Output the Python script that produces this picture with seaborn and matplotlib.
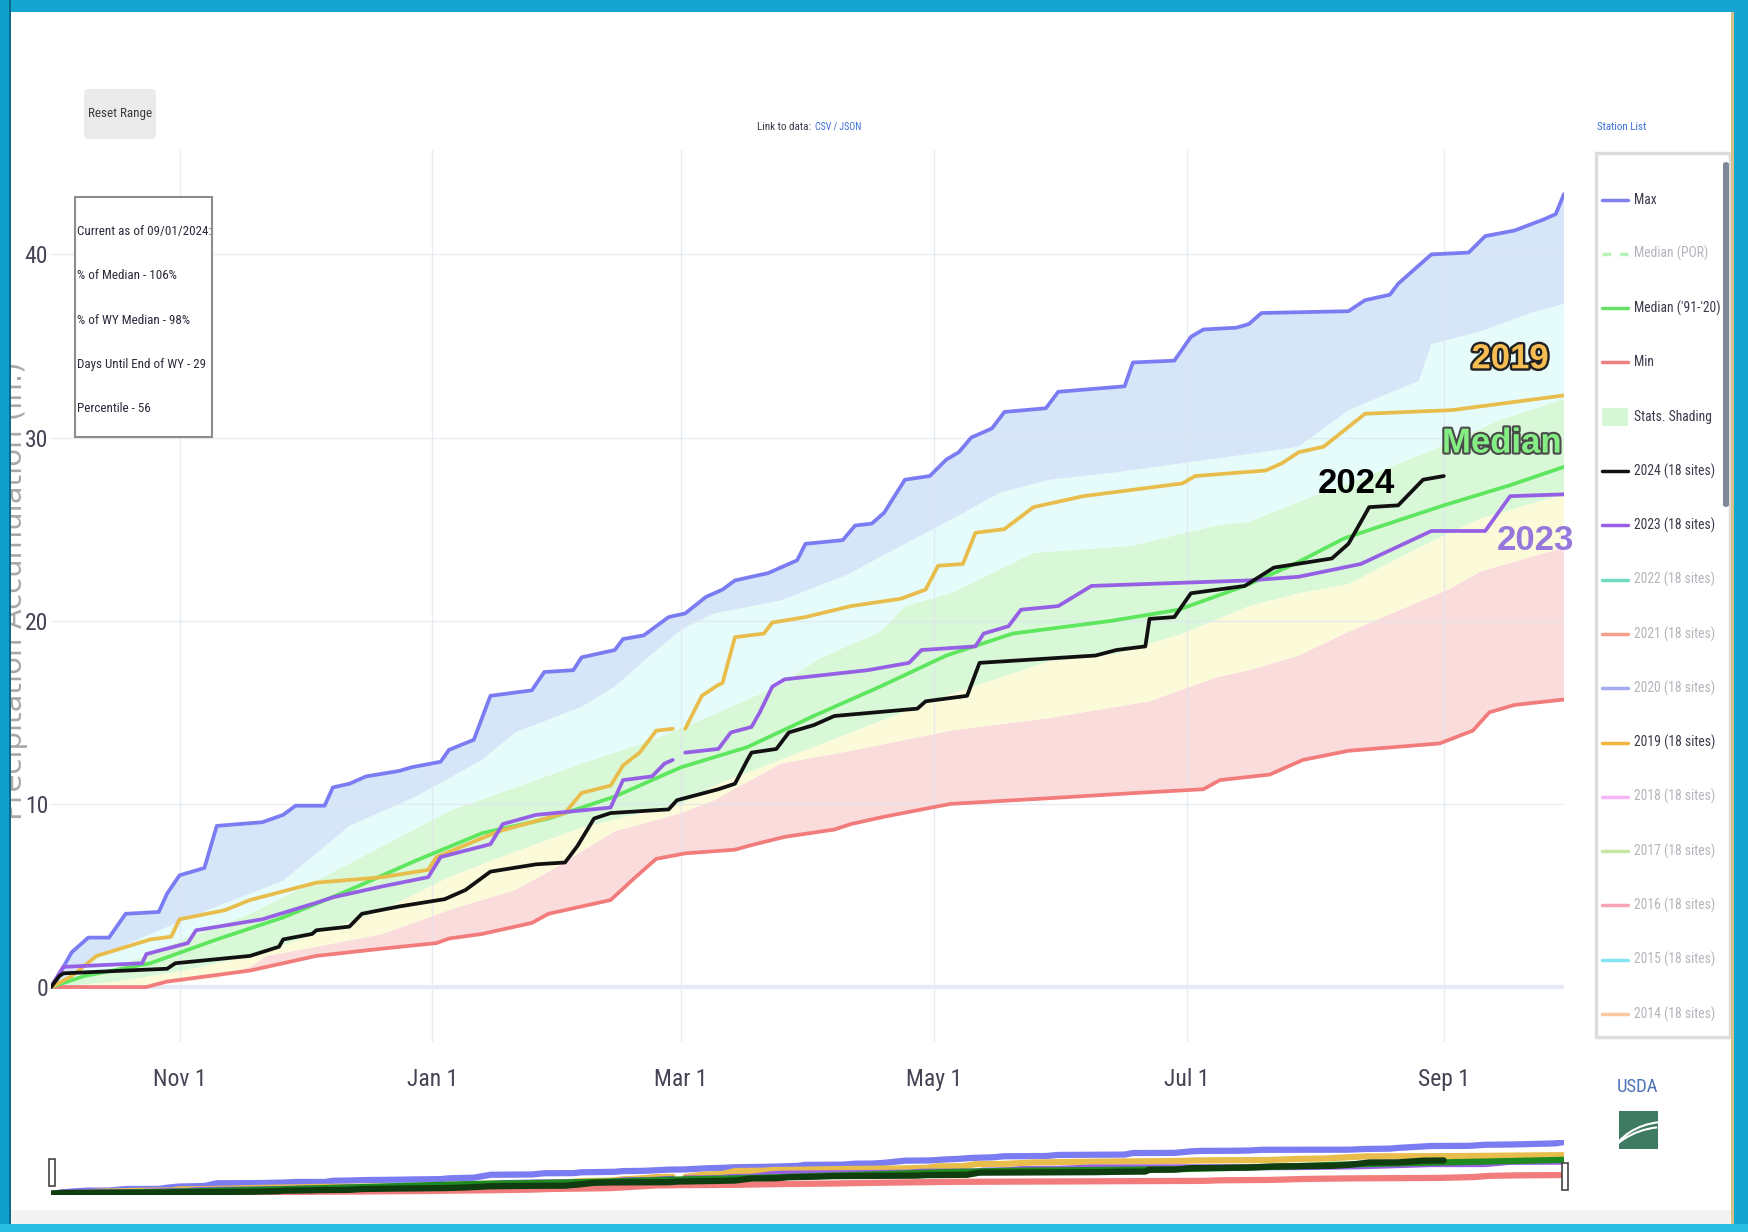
import numpy as np
import pandas as pd
import matplotlib
matplotlib.use("Agg")
import matplotlib.pyplot as plt
import matplotlib.patheffects as pe
from matplotlib import font_manager as fm
from matplotlib.patches import Rectangle, FancyBboxPatch, Arc
from matplotlib.lines import Line2D
import seaborn as sns

# ---- data: day of water year (0 = Oct 1 2023), accumulated precip (in.) ----
max_days = [0, 3, 5, 9, 14, 18, 26, 28, 31, 37, 40, 51, 56, 59, 66, 68, 72, 76, 84, 87, 94, 96, 102, 106,
            116, 119, 126, 128, 136, 138, 143, 149, 153, 158, 162, 165, 173, 180, 182, 191, 194, 198, 201,
            206, 212, 216, 219, 222, 227, 230, 240, 243, 259, 261, 271, 275, 278, 286, 289, 292, 313, 317,
            323, 325, 333, 342, 346, 353, 360, 363, 365]
max_vals = [0, 1.1, 1.9, 2.7, 2.7, 4.0, 4.1, 5.1, 6.1, 6.5, 8.8, 9.0, 9.4, 9.9, 9.9, 10.9, 11.1, 11.5, 11.8,
            12.0, 12.3, 12.95, 13.5, 15.9, 16.2, 17.2, 17.3, 18.0, 18.4, 19.0, 19.2, 20.2, 20.4, 21.3, 21.7,
            22.2, 22.6, 23.3, 24.2, 24.4, 25.2, 25.3, 25.9, 27.7, 27.9, 28.8, 29.2, 30.0, 30.5, 31.4, 31.6,
            32.5, 32.8, 34.1, 34.2, 35.5, 35.9, 36.0, 36.2, 36.8, 36.9, 37.5, 37.8, 38.4, 40.0, 40.1, 41.0,
            41.3, 41.9, 42.2, 43.3]

min_days = [0, 23, 28, 48, 64, 80, 93, 96, 104, 116, 120, 135, 141, 146, 153, 165, 169, 177, 189, 193, 201,
            217, 240, 262, 278, 282, 294, 302, 313, 335, 343, 347, 353, 365]
min_vals = [0, 0, 0.3, 0.9, 1.7, 2.1, 2.4, 2.65, 2.9, 3.5, 4.0, 4.75, 6.0, 7.0, 7.3, 7.5, 7.75, 8.2, 8.6, 8.9,
            9.3, 10.0, 10.3, 10.6, 10.8, 11.3, 11.6, 12.4, 12.9, 13.3, 14.0, 15.0, 15.4, 15.7]

median_days = [0, 8, 24, 40, 56, 72, 88, 104, 120, 136, 152, 168, 184, 200, 216, 232, 256, 272, 288, 300,
               312, 324, 336, 352, 365]
median_vals = [0, 0.6, 1.3, 2.6, 3.8, 5.3, 6.9, 8.4, 9.2, 10.4, 12.0, 13.1, 14.8, 16.4, 18.1, 19.3, 20.0,
               20.6, 21.9, 23.1, 24.5, 25.4, 26.3, 27.4, 28.4]

wy2024_days = [0, 2, 3, 28, 30, 48, 55, 56, 63, 64, 72, 75, 84, 95, 100, 106, 117, 124, 127, 131, 135, 149,
               151, 161, 165, 168, 169, 175, 178, 184, 189, 209, 211, 221, 224, 252, 257, 264, 265, 271, 275,
               288, 295, 309, 313, 318, 325, 331, 336]
wy2024_vals = [0, 0.6, 0.75, 1.0, 1.3, 1.7, 2.2, 2.6, 2.9, 3.1, 3.3, 4.0, 4.4, 4.8, 5.3, 6.3, 6.7, 6.8, 7.7,
               9.2, 9.5, 9.7, 10.2, 10.8, 11.1, 12.4, 12.8, 13.0, 13.9, 14.3, 14.8, 15.2, 15.6, 15.9, 17.7,
               18.1, 18.4, 18.6, 20.1, 20.2, 21.5, 21.9, 22.9, 23.4, 24.2, 26.2, 26.3, 27.7, 27.9]

wy2023_days = [0, 3, 22, 23, 33, 35, 51, 64, 68, 80, 91, 94, 106, 109, 117, 135, 138, 145, 148, 150, 151,
               153, 161, 164, 169, 171, 174, 177, 197, 207, 210, 223, 225, 231, 234, 243, 251, 289, 301, 316,
               333, 346, 352, 365]
wy2023_vals = [0, 1.1, 1.3, 1.8, 2.4, 3.1, 3.7, 4.6, 4.9, 5.5, 6.0, 7.1, 7.8, 8.9, 9.4, 9.8, 11.3, 11.5, 12.2,
               12.4, np.nan, 12.8, 13.0, 13.9, 14.2, 15.0, 16.4, 16.8, 17.3, 17.7, 18.4, 18.6, 19.3, 19.7,
               20.6, 20.8, 21.9, 22.2, 22.4, 23.1, 24.9, 24.9, 26.8, 26.9]

wy2019_days = [0, 5, 11, 24, 29, 31, 42, 48, 64, 80, 91, 93, 108, 124, 128, 135, 138, 142, 146, 150, 151,
               153, 157, 161, 162, 165, 172, 174, 182, 193, 205, 211, 214, 220, 223, 230, 237, 249, 273, 276,
               293, 297, 301, 307, 317, 338, 365]
wy2019_vals = [0, 0.6, 1.7, 2.6, 2.75, 3.7, 4.2, 4.75, 5.7, 6.0, 6.4, 7.1, 8.5, 9.5, 10.6, 11.0, 12.1, 12.8,
               14.0, 14.1, np.nan, 14.1, 15.9, 16.5, 16.6, 19.1, 19.3, 19.9, 20.2, 20.8, 21.2, 21.7, 23.0,
               23.1, 24.8, 25.0, 26.2, 26.8, 27.5, 27.9, 28.2, 28.6, 29.2, 29.5, 31.3, 31.5, 32.3]

# percentile band edges for the stats shading
p90_days = [0, 8, 24, 40, 56, 72, 88, 104, 112, 128, 136, 144, 152, 160, 176, 192, 206, 217, 229, 241, 257,
            273, 289, 301, 313, 330, 333, 345, 357, 365]
p90_vals = [0, 1.3, 2.9, 4.4, 5.8, 8.8, 10.4, 12.4, 13.9, 15.3, 16.4, 18.0, 19.5, 20.4, 21.1, 22.5, 24.2,
            25.5, 27.0, 27.7, 28.1, 28.6, 29.1, 29.5, 31.5, 33.1, 35.1, 35.8, 36.8, 37.3]
p70_days = [0, 16, 32, 48, 64, 80, 96, 112, 128, 144, 160, 176, 185, 200, 206, 217, 237, 261, 281, 289, 301,
            313, 334, 350, 365]
p70_vals = [0, 1.1, 2.6, 4.0, 5.8, 7.7, 9.6, 10.9, 12.2, 13.4, 14.9, 16.5, 17.9, 19.4, 20.8, 21.5, 23.7,
            24.1, 25.2, 25.4, 26.5, 27.5, 29.4, 31.0, 32.1]
p30_days = [0, 16, 32, 48, 64, 80, 96, 112, 128, 144, 152, 161, 177, 193, 217, 241, 257, 273, 289, 301, 313,
            330, 345, 365]
p30_vals = [0, 0.3, 0.9, 1.7, 2.9, 4.2, 6.0, 7.4, 8.7, 9.6, 10.0, 11.1, 12.5, 13.9, 16.0, 17.8, 18.2, 19.3,
            20.8, 21.5, 22.0, 24.0, 25.6, 26.9]
p10_days = [0, 24, 40, 48, 52, 64, 80, 96, 112, 120, 136, 152, 160, 176, 193, 217, 241, 265, 281, 289, 301,
            313, 337, 345, 365]
p10_vals = [0, 0.1, 0.5, 1.1, 1.7, 2.2, 2.9, 4.2, 5.3, 6.3, 8.5, 9.5, 10.2, 12.2, 12.9, 14.0, 14.7, 15.6,
            16.9, 17.3, 18.1, 19.4, 21.7, 22.7, 24.0]

tick_dates = ["2023-11-01", "2024-01-01", "2024-03-01", "2024-05-01", "2024-07-01", "2024-09-01"]
tick_labels = ["Nov 1", "Jan 1", "Mar 1", "May 1", "Jul 1", "Sep 1"]
y_ticks = [0, 10, 20, 30, 40]

stats_lines = ["Current as of 09/01/2024:", "% of Median - 106%", "% of WY Median - 98%",
               "Days Until End of WY - 29", "Percentile - 56"]

legend_labels = ["Max", "Median (POR)", "Median ('91-'20)", "Min", "Stats. Shading", "2024 (18 sites)",
                 "2023 (18 sites)", "2022 (18 sites)", "2021 (18 sites)", "2020 (18 sites)",
                 "2019 (18 sites)", "2018 (18 sites)", "2017 (18 sites)", "2016 (18 sites)",
                 "2015 (18 sites)", "2014 (18 sites)"]
legend_colors = ["#8080f0", "#b8f2b8", "#66e066", "#f08080", "#d6f7d6", "#111111", "#9a5fe8", "#6edcbe",
                 "#f4a08c", "#a4aaf2", "#f2b63c", "#f6b6f6", "#c6e6a6", "#f6a4b6", "#86e2f2", "#fcc89e"]
legend_active = [True, False, True, True, True, True, True, False, False, False, True, False, False, False,
                 False, False]

# ---- fonts: the screenshot text is very narrow, use a condensed face if one is installed ----
sns.set_theme(style="white")
names = {f.name for f in fm.fontManager.ttflist}
COND, STRETCH = None, "normal"
for n in ["Roboto Condensed", "Open Sans Condensed", "Liberation Sans Narrow", "DejaVu Sans Condensed",
          "Noto Sans Condensed"]:
    if n in names:
        COND = n
        break
if COND is None:
    for f in fm.fontManager.ttflist:
        st = f.stretch
        narrow = st in ("condensed", "semi-condensed", "extra-condensed") or (isinstance(st, int) and st < 500)
        if f.name in ("Roboto", "Open Sans", "Noto Sans", "DejaVu Sans", "Lato", "Inter") and narrow:
            COND, STRETCH = f.name, "condensed"
            break
HAVE_COND = COND is not None
if COND is None:
    COND = "Open Sans"
plt.rcParams["font.family"] = [COND, "DejaVu Sans"]
plt.rcParams["font.stretch"] = STRETCH

W, H = 1748, 1232
def fx(x):
    return x / W
def fy(y):
    return 1 - y / H

wy_start = pd.Timestamp("2023-10-01")
def to_dates(days):
    return wy_start + pd.to_timedelta(np.asarray(days, dtype=float), unit="D")

def draw_line(axis, days, vals, color, lw, z=3):
    d = pd.DataFrame({"date": to_dates(days), "val": vals})
    d["seg"] = d["val"].isna().cumsum()
    d = d.dropna()
    sns.lineplot(data=d, x="date", y="val", units="seg", estimator=None, color=color,
                 linewidth=lw, ax=axis, legend=False, sort=False, zorder=z)

def band(axis, d_lo, v_lo, d_hi, v_hi, color):
    xs = np.concatenate([to_dates(d_lo).values, to_dates(d_hi).values[::-1]])
    ys = np.concatenate([np.asarray(v_lo, float), np.asarray(v_hi, float)[::-1]])
    axis.fill(xs, ys, color=color, lw=0, zorder=1)

fig = plt.figure(figsize=(W / 100, H / 100), dpi=100, facecolor="white")
renderer = fig.canvas.get_renderer()

def fit(texts, max_w):
    # one common size for a group of texts, shrunk until the widest fits
    scale = min(max_w / t.get_window_extent(renderer).width for t in texts)
    if scale < 1:
        for t in texts:
            t.set_fontsize(t.get_fontsize() * scale)
    return texts

ax = fig.add_axes([fx(51), fy(1042), fx(1564) - fx(51), fy(150) - fy(1042)])

# stats shading
band(ax, min_days, min_vals, p10_days, p10_vals, "#fbdcdc")
band(ax, p10_days, p10_vals, p30_days, p30_vals, "#fbfbd9")
band(ax, p30_days, p30_vals, p70_days, p70_vals, "#d8f8d8")
band(ax, p70_days, p70_vals, p90_days, p90_vals, "#e6fcfb")
band(ax, p90_days, p90_vals, max_days, max_vals, "#d6e6f8")

# lines
lw = 2.7
draw_line(ax, min_days, min_vals, "#f27c7c", lw)
draw_line(ax, max_days, max_vals, "#7c7cf2", lw)
draw_line(ax, median_days, median_vals, "#5ee65e", lw)
draw_line(ax, wy2019_days, wy2019_vals, "#e8bd4c", lw)
draw_line(ax, wy2023_days, wy2023_vals, "#9560e4", lw)
draw_line(ax, wy2024_days, wy2024_vals, "#111111", lw, z=4)

ax.set_xlim(pd.Timestamp("2023-10-01"), pd.Timestamp("2024-09-30"))
ax.set_ylim(-3.0, 45.7)
ax.set_xticks(pd.to_datetime(tick_dates))
ax.set_xticklabels(tick_labels)
ax.set_yticks(y_ticks)
ax.set_yticklabels([str(v) for v in y_ticks])
ax.set_xlabel("")
ax.set_ylabel("")
ax.set_axisbelow(False)
ax.grid(True, color="#dfe4ef", lw=1.0, alpha=0.7)
ax.axhline(0, color="#e6eaf4", lw=3, zorder=2.6)
for s in ax.spines.values():
    s.set_visible(False)
tick_fs = 17 if HAVE_COND else 14
ax.tick_params(axis="x", length=0, pad=19, labelsize=tick_fs, labelcolor="#444455")
ax.tick_params(axis="y", length=0, pad=2, labelsize=tick_fs if HAVE_COND else 12.5, labelcolor="#444455")

# line labels
bold = ["Liberation Sans", "DejaVu Sans"]
ax.text(pd.Timestamp("2024-09-17"), 34.3, "2019", fontsize=25, fontweight="bold", family=bold,
        stretch="normal", color="#f7bd52", ha="center", va="center", zorder=6,
        path_effects=[pe.withStroke(linewidth=3.5, foreground="#222222")])
ax.text(pd.Timestamp("2024-09-15"), 29.7, "Median", fontsize=25, fontweight="bold", family=bold,
        stretch="normal", color="#84ee84", ha="center", va="center", zorder=6,
        path_effects=[pe.withStroke(linewidth=3.0, foreground="#4a4a4a")])
ax.text(pd.Timestamp("2024-08-11"), 27.5, "2024", fontsize=25, fontweight="bold", family=bold,
        stretch="normal", color="#000000", ha="center", va="center", zorder=6)
ax.text(pd.Timestamp("2024-09-23"), 24.4, "2023", fontsize=25, fontweight="bold", family=bold,
        stretch="normal", color="#9678dc", ha="center", va="center", zorder=6)

# y label (partly hidden by the frame, like the screenshot)
fig.text(fx(14), fy(591), "Precipitation Accumulation (in.)", rotation=90, ha="center", va="center",
         fontsize=21, color="#a8a8a8", family=["DejaVu Sans"], stretch="normal")

# stats box
fig.patches.append(Rectangle((fx(75), fy(437)), fx(212) - fx(75), fy(197) - fy(437),
                             transform=fig.transFigure, fc="white", ec="#8c8c8c", lw=1.5, zorder=5))
fit([fig.text(fx(77), fy(231 + 44.5 * i), line, ha="left", va="center", fontsize=16,
              color="#2a2a3a", zorder=6) for i, line in enumerate(stats_lines)], 134)

# toolbar bits
fig.patches.append(FancyBboxPatch((fx(84), fy(139)), fx(156) - fx(84), fy(89) - fy(139),
                                  boxstyle="round,pad=0,rounding_size=0.003", transform=fig.transFigure,
                                  fc="#ebebeb", ec="none"))
fit([fig.text(fx(120), fy(113), "Reset Range", ha="center", va="center", fontsize=15, color="#3a3a3a")], 64)
fit([fig.text(fx(811), fy(127), "Link to data:", ha="right", va="center", fontsize=13, color="#3a3a4a")], 54)
fit([fig.text(fx(815), fy(127), "CSV / JSON", ha="left", va="center", fontsize=13, color="#3c6fdc")], 46)
fit([fig.text(fx(1597), fy(127), "Station List", ha="left", va="center", fontsize=13, color="#3c6fdc")], 49)

# legend panel
fig.patches.append(Rectangle((fx(1596), fy(1037)), fx(1730) - fx(1596), fy(153) - fy(1037),
                             transform=fig.transFigure, fc="white", ec="#dddddd", lw=2.5))
fig.patches.append(FancyBboxPatch((fx(1723), fy(507)), fx(1729) - fx(1723), fy(162) - fy(507),
                                  boxstyle="round,pad=0,rounding_size=0.002", transform=fig.transFigure,
                                  fc="#7f879b", ec="none"))
leg_texts = []
for i, (lab, col, act) in enumerate(zip(legend_labels, legend_colors, legend_active)):
    yy = fy(199.5 + 54.3 * i)
    if lab == "Stats. Shading":
        fig.patches.append(Rectangle((fx(1602), yy - 9 / H), 26 / W, 18 / H, transform=fig.transFigure,
                                     fc=col, ec="none"))
    else:
        fig.add_artist(Line2D([fx(1602), fx(1628)], [yy, yy], transform=fig.transFigure, color=col,
                              lw=2.5, ls=(0, (2.5, 2.5)) if lab == "Median (POR)" else "-"))
    leg_texts.append(fig.text(fx(1634), yy, lab, ha="left", va="center", fontsize=16,
                              color="#3a3a4a" if act else "#b4b4bc"))
fit(leg_texts, 87)

# USDA mark
fit([fig.text(fx(1638), fy(1087), "USDA", ha="center", va="center", fontsize=28, color="#4d73b8")], 42)
fig.patches.append(Rectangle((fx(1619), fy(1149)), fx(1658) - fx(1619), fy(1111) - fy(1149),
                             transform=fig.transFigure, fc="#3f7a63", ec="none"))
for r, yc in [(60, 1176), (70, 1190)]:
    fig.patches.append(Arc((fx(1665), fy(yc)), 2 * r / W, 2 * r / H * 0.9, theta1=95, theta2=150,
                           transform=fig.transFigure, color="white", lw=1.5))

# range slider
rs = fig.add_axes([fx(51), fy(1195), fx(1564) - fx(51), fy(1140) - fy(1195)])
draw_line(rs, max_days, max_vals, "#7c7cf2", 4.5)
draw_line(rs, min_days, min_vals, "#f27c7c", 4.5)
draw_line(rs, wy2019_days, wy2019_vals, "#e8bd4c", 4.5)
draw_line(rs, wy2023_days, wy2023_vals, "#9560e4", 4.5)
draw_line(rs, median_days, median_vals, "#1f8a1f", 4.5)
draw_line(rs, wy2024_days, wy2024_vals, "#0f3d0f", 4.5)
rs.set_xlim(pd.Timestamp("2023-10-01"), pd.Timestamp("2024-09-30"))
rs.set_ylim(-1, 45)
rs.axis("off")
for x0, y0 in [(49, 1159), (1562, 1163)]:
    fig.patches.append(Rectangle((fx(x0), fy(y0 + 27)), 6 / W, 27 / H, transform=fig.transFigure,
                                 fc="white", ec="#444444", lw=1.2, zorder=5))

# screenshot frame
fig.patches.append(Rectangle((fx(11), fy(1224)), fx(1731) - fx(11), fy(1210) - fy(1224),
                             transform=fig.transFigure, fc="#f3f3f3", ec="none", zorder=9))
fig.patches.append(Rectangle((fx(1731), 0), 3 / W, 1, transform=fig.transFigure, fc="#d8c08e",
                             ec="none", zorder=9))
for (x0, y0, x1, y1, c) in [(0, 0, 1748, 12, "#14a6d0"), (0, 0, 9, 1232, "#0ea0ca"),
                            (9, 0, 11, 1232, "#0a6a8c"), (1734, 0, 1748, 1232, "#14a6d0"),
                            (0, 1224, 1748, 1232, "#26bde0")]:
    fig.patches.append(Rectangle((fx(x0), fy(y1)), fx(x1) - fx(x0), fy(y0) - fy(y1),
                                 transform=fig.transFigure, fc=c, ec="none", zorder=10))

fig.savefig("out.png", dpi=100, facecolor="white")
